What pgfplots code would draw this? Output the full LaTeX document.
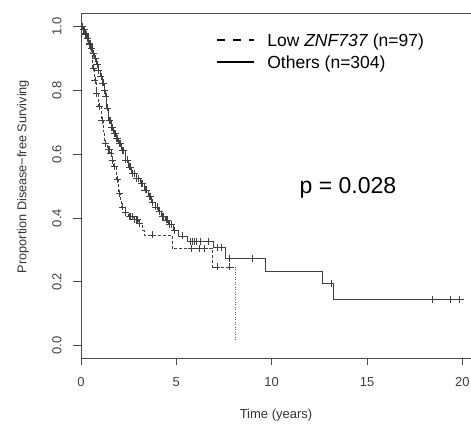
\documentclass[border=0pt]{standalone}
\usepackage{fontspec}
\setmainfont{Liberation Sans}
\usepackage{pgfplots}
\pgfplotsset{compat=1.18}

\begin{document}
\begin{tikzpicture}
\begin{axis}[
    width=390pt, height=345pt, scale only axis,
    xmin=0, xmax=20.45, ymin=-0.0385, ymax=1.0423,
    clip=false,
    axis line style={draw=none},
    xtick={0,5,10,15,20},
    ytick={0,0.2,0.4,0.6,0.8,1.0},
    xtick pos=bottom, ytick pos=left,
    tick align=outside, major tick length=7.5pt,
    tick style={black!70, line width=0.8pt},
    /pgf/number format/assume math mode=true,
    ticklabel style={font=\fontsize{13}{15}\selectfont, text=black!75, inner sep=0pt},
    yticklabel style={rotate=90, anchor=south,
        /pgf/number format/.cd, fixed, fixed zerofill, precision=1},
    xticklabel style={anchor=north},
    xticklabel shift=11.5pt, yticklabel shift=11.8pt,
    xlabel={Time (years)},
    ylabel={Proportion Disease\textminus free Surviving},
    label style={text=black!80},
    xlabel style={font=\fontsize{13}{15}\selectfont, at={(axis description cs:0.5,0)}, anchor=center, yshift=-57pt},
    ylabel style={font=\fontsize{12.7}{15}\selectfont, at={(axis description cs:0,0.526)}, anchor=center, rotate=0, yshift=58pt},
    legend style={at={(rel axis cs:0.346,0.942)}, anchor=north west,
        draw=none, fill=none, inner sep=0pt,
        font=\fontsize{17.5}{20}\selectfont,
        column sep=12pt, row sep=5pt,
        nodes={inner sep=0pt, text height=13pt, text depth=4pt}},
    legend cell align=left,
    legend image code/.code={\draw[#1] (0pt,2pt) -- (37pt,2pt);},
]

% Low ZNF737 (n=97)
\addplot[const plot, black!75, line width=0.7pt, dash pattern=on 3pt off 2pt, forget plot] table {
x y
0 1.000
0.10 0.990
0.20 0.979
0.30 0.965
0.40 0.945
0.50 0.915
0.60 0.870
0.68 0.830
0.78 0.790
0.90 0.750
1.05 0.705
1.15 0.670
1.25 0.634
1.38 0.615
1.53 0.603
1.62 0.580
1.70 0.561
1.83 0.520
1.96 0.477
2.05 0.455
2.14 0.435
2.30 0.418
2.49 0.404
2.75 0.395
3.01 0.383
3.20 0.362
3.30 0.347
4.77 0.305
6.87 0.247
8.09 0.247
};
\addplot[black!65, line width=0.7pt, dash pattern=on 1pt off 1.5pt, forget plot] coordinates {
(8.09,0.247) (8.09,0.012)
};
\addplot[only marks, mark=+, mark size=3.5pt, mark options={black!75, line width=0.65pt, solid}, forget plot] coordinates {
(0.08,1.0) (0.25,0.979) (0.45,0.945) (0.63,0.870) (0.73,0.830) (0.82,0.790)
(0.97,0.750) (1.10,0.705) (1.28,0.634) (1.42,0.615) (1.47,0.615) (1.57,0.603)
(1.66,0.580) (1.75,0.561) (1.90,0.520) (2.00,0.477) (2.18,0.435) (2.35,0.418)
(2.53,0.404) (2.60,0.404) (2.68,0.404) (2.80,0.395) (2.88,0.395) (2.95,0.395)
(3.05,0.383) (3.73,0.347) (5.80,0.305) (6.20,0.305) (6.45,0.305)
(7.13,0.247) (7.79,0.247)
};

% Others (n=304)
\addplot[const plot, black!75, line width=0.7pt, forget plot] table {
x y
0 1.000
0.10 0.990
0.20 0.975
0.30 0.962
0.40 0.947
0.50 0.931
0.60 0.915
0.70 0.900
0.80 0.880
0.90 0.862
1.00 0.843
1.10 0.823
1.20 0.800
1.28 0.780
1.35 0.745
1.44 0.707
1.57 0.685
1.70 0.665
1.83 0.650
1.96 0.634
2.10 0.612
2.31 0.582
2.48 0.560
2.66 0.540
2.88 0.525
3.10 0.509
3.30 0.488
3.53 0.467
3.70 0.450
3.88 0.435
4.05 0.420
4.20 0.405
4.41 0.394
4.60 0.380
4.84 0.362
5.10 0.344
5.56 0.327
6.95 0.307
7.55 0.274
9.66 0.234
12.63 0.195
13.24 0.146
20.08 0.146
};
\addplot[only marks, mark=+, mark size=3.5pt, mark options={black!75, line width=0.65pt}, forget plot] coordinates {
(0.05,1.0) (0.12,0.990) (0.16,0.990) (0.22,0.975) (0.26,0.975) (0.33,0.962)
(0.36,0.962) (0.43,0.947) (0.47,0.947) (0.53,0.931) (0.57,0.931) (0.63,0.915)
(0.67,0.915) (0.74,0.900) (0.83,0.880) (0.87,0.880) (0.93,0.862) (1.04,0.843)
(1.13,0.823) (1.17,0.823) (1.23,0.800) (1.31,0.780) (1.38,0.745) (1.47,0.707)
(1.52,0.707) (1.60,0.685) (1.65,0.685) (1.74,0.665) (1.79,0.665) (1.87,0.650)
(1.92,0.650) (2.00,0.634) (2.05,0.634) (2.15,0.612) (2.22,0.612) (2.35,0.582)
(2.42,0.582) (2.52,0.560) (2.60,0.560) (2.70,0.540) (2.78,0.540) (2.92,0.525)
(3.00,0.525) (3.15,0.509) (3.22,0.509) (3.35,0.488) (3.45,0.488) (3.58,0.467)
(3.64,0.467) (3.75,0.450) (3.92,0.435) (3.98,0.435) (4.10,0.420) (4.25,0.405)
(4.32,0.405) (4.45,0.394) (4.52,0.394) (4.65,0.380) (4.75,0.380) (4.88,0.362)
(5.30,0.344) (5.75,0.327) (5.85,0.327) (5.95,0.327) (6.05,0.327)
(6.25,0.327) (6.70,0.327) (7.15,0.307) (7.35,0.307) (7.80,0.274) (8.96,0.274)
(13.10,0.195) (18.44,0.146) (19.35,0.146) (19.83,0.146)
};

\addlegendimage{black, line width=2.2pt, dash pattern=on 8pt off 8pt}
\addlegendentry{Low \textit{ZNF737} (n=97)}
\addlegendimage{black, line width=2.2pt}
\addlegendentry{Others (n=304)}

\draw[black!70, line width=0.9pt] (rel axis cs:1,1) -- (rel axis cs:0,1) -- (rel axis cs:0,0) -- (rel axis cs:1,0);
\node[anchor=base, font=\fontsize{23}{26}\selectfont] at (axis cs:14.0,0.478) {p = 0.028};
\end{axis}
\pgfresetboundingbox
\path[use as bounding box] (-81pt,-67pt) rectangle (390pt,358pt);
\end{tikzpicture}
\end{document}
